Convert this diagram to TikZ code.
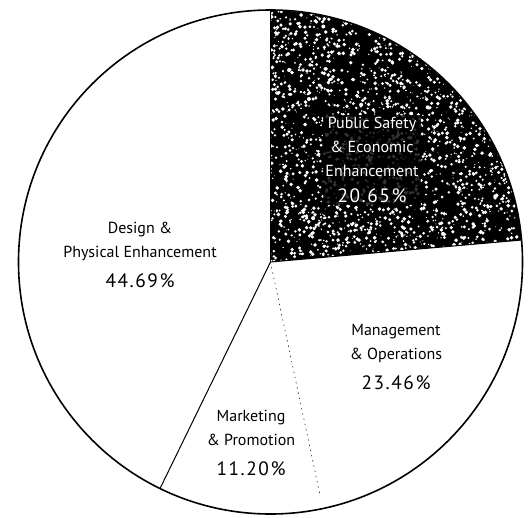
\documentclass[tikz,border=0pt]{standalone}
\usepackage{fontspec}
\setmainfont{PT Sans}
\newcommand{\pctfont}{\fontsize{14.5}{18}\selectfont\addfontfeature{LetterSpace=8}}
\tikzset{every picture/.style={line width=0.75pt}}
\tikzset{
  pietext/.style={align=center, font=\fontsize{12}{18}\selectfont}
}

\begin{document}
\begin{tikzpicture}[x=0.75pt,y=0.75pt,yscale=-1,xscale=1]
	\useasboundingbox (0,0) rectangle (531,517);

	%Centre and slice edges
	\coordinate (hub) at (270.5,262);
	\path (hub) ++(-90:252) coordinate (top);
	\path (hub) ++(-5:252) coordinate (edgeA);
	\path (hub) ++(78:236) coordinate (edgeB);
	\path (hub) ++(116:252) coordinate (edgeC);

	%Shape: Dark slice
	\begin{scope}
		\clip (hub) -- (top) arc (-90:-5:252) -- cycle;
		\fill [black] (260,0) rectangle (531,275);
		\pgfmathsetseed{4711}
		\foreach \i in {1,...,2600} {
			\fill [white] (270+254*rnd,6+262*rnd) circle ({0.4+1.6*rnd});
		}
	\end{scope}

	%Shape: Circle
	\draw [line width=1.2pt] (hub) circle (252);
	%Straight Lines
	\draw (hub) -- (top);
	\draw (hub) -- (edgeA);
	\draw (hub) -- (edgeC);
	\draw [line width=0.4pt, dash pattern=on 1pt off 3pt] (hub) -- (edgeB);

	% Text Node
	\node [pietext, text=white, fill=black, fill opacity=0.8, text opacity=1, inner sep=2pt] (safety) at (372,160) {Public Safety\\\& Economic\\Enhancement\\[1pt]{\pctfont 20.65\%}};
	% Text Node
	\node [pietext] (design) at (140,255) {Design \&\\Physical Enhancement\\[4pt]{\pctfont 44.69\%}};
	% Text Node
	\node [pietext] (mgmt) at (396,357) {Management\\\& Operations\\[4pt]{\pctfont 23.46\%}};
	% Text Node
	\node [pietext] (mktg) at (251,443) {Marketing\\\& Promotion\\[4pt]{\pctfont 11.20\%}};

\end{tikzpicture}
\end{document}
